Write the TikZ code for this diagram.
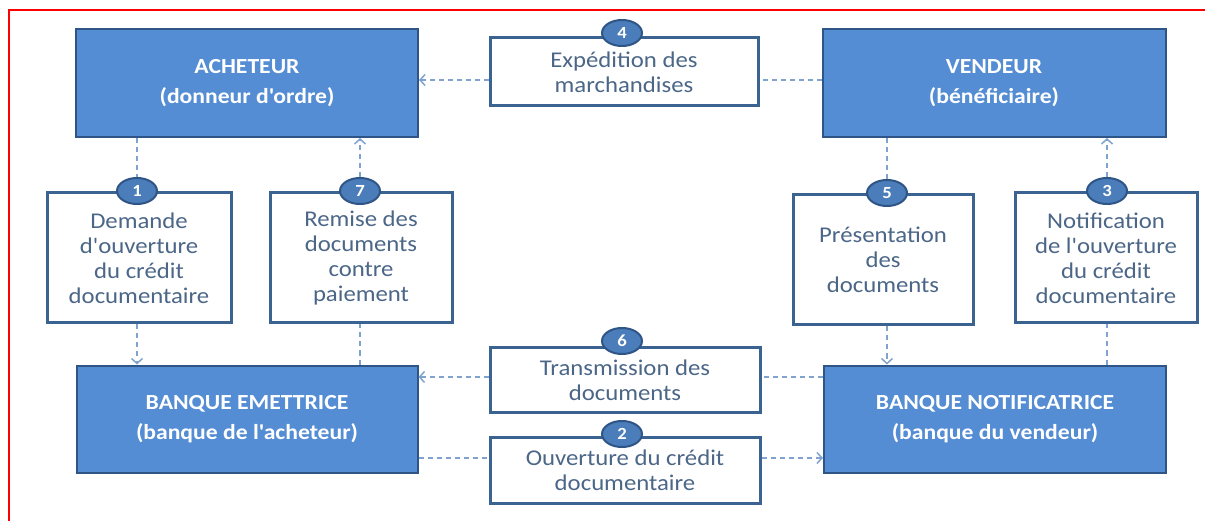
\documentclass[tikz,border=0pt]{standalone}
\usepackage{fontspec}
\setmainfont{Carlito}[FakeStretch=1.1, Ligatures=TeXOff]
\usetikzlibrary{shapes.geometric,arrows.meta}
\definecolor{partyfill}{HTML}{548DD4}
\definecolor{partyedge}{HTML}{2F5586}
\definecolor{stepedge}{HTML}{3B6391}
\definecolor{steptext}{HTML}{4B6687}
\definecolor{badgefill}{HTML}{4A7DBA}
\definecolor{flowline}{HTML}{7FA2CE}
\tikzset{
  party/.style={rectangle, draw=partyedge, line width=2pt, fill=partyfill,
    text=white, font=\fontsize{21.5}{30}\selectfont\bfseries, align=center},
  stepbox/.style={rectangle, draw=stepedge, line width=3pt, fill=white,
    text=steptext, font=\fontsize{22.5}{25}\selectfont, align=center, inner sep=2pt},
  badge/.style={ellipse, draw=partyedge, line width=2pt, fill=badgefill,
    text=white, font=\fontsize{17}{17}\selectfont\bfseries,
    minimum width=40pt, minimum height=26pt, inner sep=0pt},
  flow/.style={draw=flowline, line width=1.8pt, dash pattern=on 5pt off 4pt},
  flowto/.style={flow, -{Straight Barb[length=5pt,width=11pt,line width=1.5pt]}}
}
\begin{document}
\begin{tikzpicture}[x=1pt,y=-1pt]
\useasboundingbox (0,0) rectangle (1205,521);
\draw[red, line width=1.6pt] (9,521) -- (9,10) -- (1205,10);

% parties
\node[party, minimum width=342pt, minimum height=108pt] (acheteur) at (247,83)
  {ACHETEUR\\(donneur d'ordre)};
\node[party, minimum width=343pt, minimum height=108pt] (vendeur) at (994,83)
  {VENDEUR\\(bénéficiaire)};
\node[party, minimum width=341pt, minimum height=107pt] (emettrice) at (247,419)
  {BANQUE EMETTRICE\\(banque de l'acheteur)};
\node[party, minimum width=342pt, minimum height=107pt] (notif) at (995,419)
  {BANQUE NOTIFICATRICE\\(banque du vendeur)};

% steps
\node[stepbox, minimum width=268pt, minimum height=68pt] (s4) at (624,72)
  {Expédition des\\marchandises};
\node[stepbox, minimum width=184pt, minimum height=130pt] (s1) at (139,258)
  {Demande\\d'ouverture\\du crédit\\documentaire};
\node[stepbox, minimum width=182pt, minimum height=130pt] (s7) at (361,258)
  {Remise des\\documents\\contre\\paiement};
\node[stepbox, minimum width=180pt, minimum height=130pt] (s5) at (883,260)
  {Présentation\\des\\documents};
\node[stepbox, minimum width=182pt, minimum height=130pt] (s3) at (1106,258)
  {Notification\\de l'ouverture\\du crédit\\documentaire};
\node[stepbox, minimum width=270pt, minimum height=65pt] (s6) at (625,380)
  {Transmission des\\documents};
\node[stepbox, minimum width=270pt, minimum height=66pt] (s2) at (625,470)
  {Ouverture du crédit\\documentaire};

% step numbers
\node[badge] (c4) at (622,33) {4};
\node[badge] (c1) at (137,191) {1};
\node[badge] (c7) at (360,191) {7};
\node[badge] (c5) at (887,193) {5};
\node[badge] (c3) at (1107,191) {3};
\node[badge] (c6) at (622,341) {6};
\node[badge] (c2) at (622,434) {2};

% horizontal levels of the flows
\coordinate (y4) at (0,80);
\coordinate (y6) at (0,377);
\coordinate (y2) at (0,458);

% 4: goods shipped
\draw[flow] (vendeur.west |- y4) -- (s4.east |- y4);
\draw[flowto] (s4.west |- y4) -- (acheteur.east |- y4);
% 1: request
\draw[flow] (c1 |- acheteur.south) -- (c1.north);
\draw[flowto] (c1 |- s1.south) -- (c1 |- emettrice.north);
% 7: documents against payment
\draw[flow] (c7 |- emettrice.north) -- (c7 |- s7.south);
\draw[flowto] (c7.north) -- (c7 |- acheteur.south);
% 5: presentation
\draw[flow] (c5 |- vendeur.south) -- (c5.north);
\draw[flowto] (c5 |- s5.south) -- (c5 |- notif.north);
% 3: notification
\draw[flow] (c3 |- notif.north) -- (c3 |- s3.south);
\draw[flowto] (c3.north) -- (c3 |- vendeur.south);
% 6: documents forwarded
\draw[flow] (notif.west |- y6) -- (s6.east |- y6);
\draw[flowto] (s6.west |- y6) -- (emettrice.east |- y6);
% 2: opening of the credit
\draw[flow] (emettrice.east |- y2) -- (s2.west |- y2);
\draw[flowto] (s2.east |- y2) -- (notif.west |- y2);
\end{tikzpicture}
\end{document}
